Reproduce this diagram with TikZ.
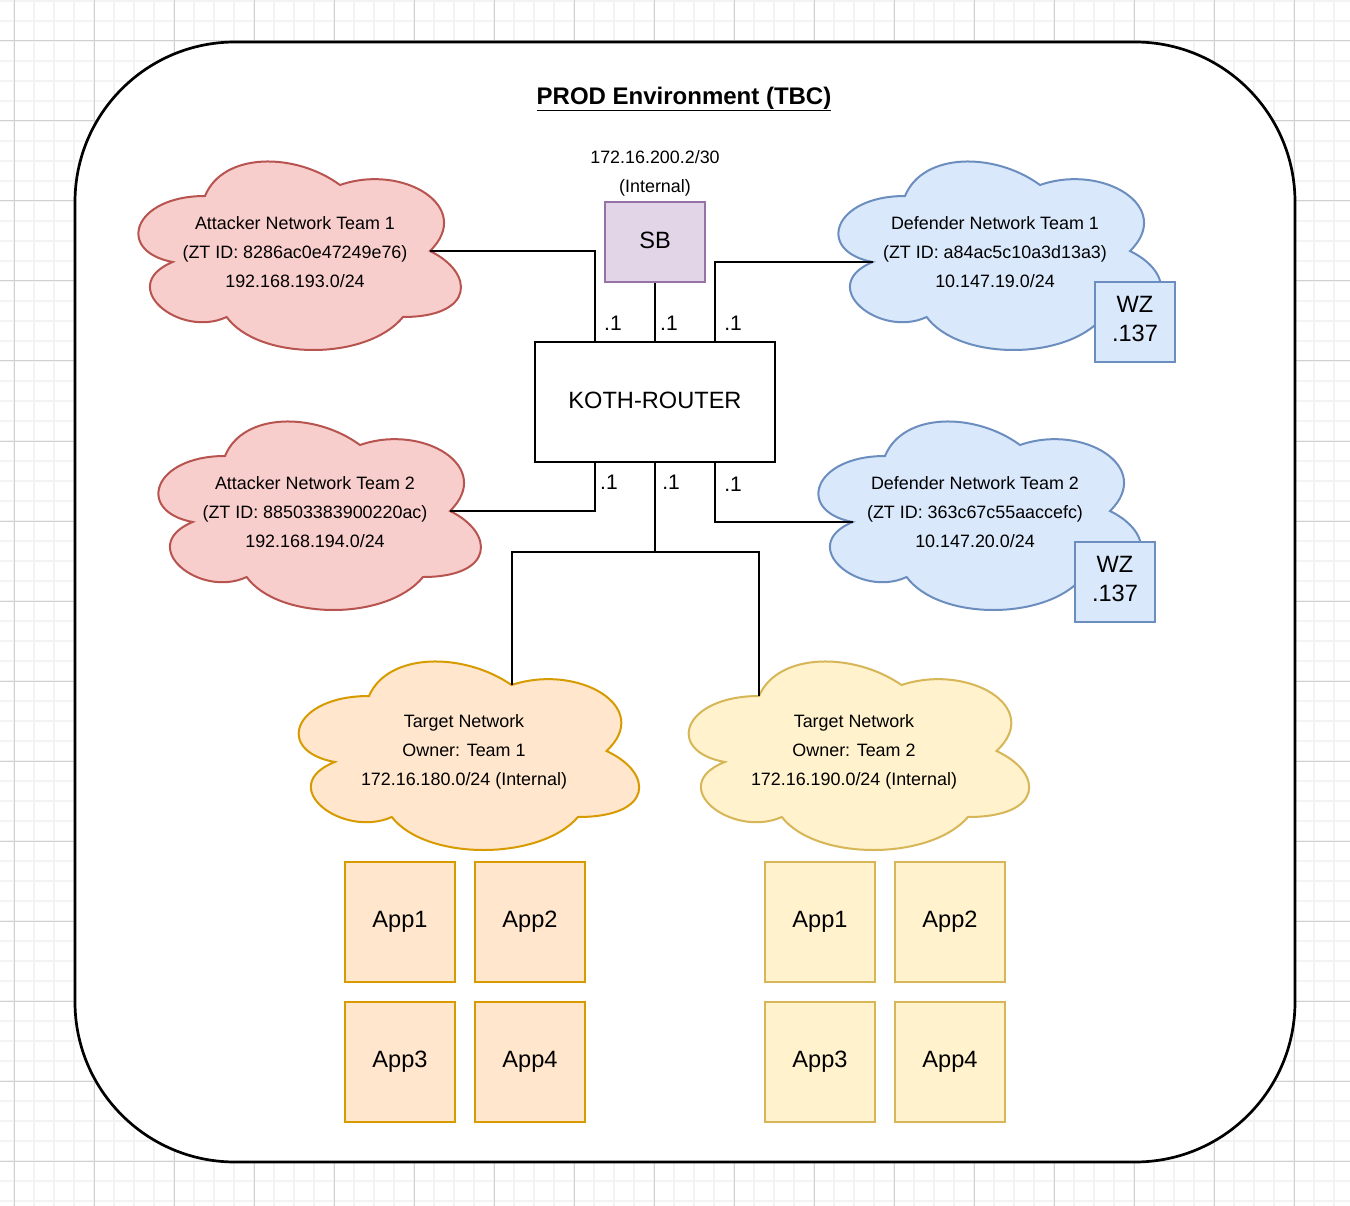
\documentclass[tikz,border=0pt]{standalone}
\usepackage{fontspec}
\setmainfont{Liberation Sans}
\usetikzlibrary{calc}
\definecolor{redfill}{HTML}{F8CECC}\definecolor{redline}{HTML}{B85450}
\definecolor{bluefill}{HTML}{DAE8FC}\definecolor{blueline}{HTML}{6C8EBF}
\definecolor{orangefill}{HTML}{FFE6CC}\definecolor{orangeline}{HTML}{D79B00}
\definecolor{yellowfill}{HTML}{FFF2CC}\definecolor{yellowline}{HTML}{D6B656}
\definecolor{purplefill}{HTML}{E1D5E7}\definecolor{purpleline}{HTML}{9673A6}
\definecolor{gridfine}{HTML}{F3F3F3}\definecolor{gridmajor}{HTML}{D0D0D0}
\newcommand\drawcloud[7]{%
  \path[#6] ({#2+0.25*#4},{#3+0.25*#5})
    .. controls ({#2+0.05*#4},{#3+0.25*#5}) and ({#2},{#3+0.5*#5}) .. ({#2+0.16*#4},{#3+0.55*#5})
    .. controls ({#2},{#3+0.66*#5}) and ({#2+0.18*#4},{#3+0.9*#5}) .. ({#2+0.31*#4},{#3+0.8*#5})
    .. controls ({#2+0.4*#4},{#3+#5}) and ({#2+0.7*#4},{#3+#5}) .. ({#2+0.8*#4},{#3+0.8*#5})
    .. controls ({#2+#4},{#3+0.8*#5}) and ({#2+#4},{#3+0.6*#5}) .. ({#2+0.875*#4},{#3+0.5*#5})
    .. controls ({#2+#4},{#3+0.3*#5}) and ({#2+0.8*#4},{#3+0.1*#5}) .. ({#2+0.625*#4},{#3+0.2*#5})
    .. controls ({#2+0.5*#4},{#3+0.05*#5}) and ({#2+0.3*#4},{#3+0.05*#5}) .. ({#2+0.25*#4},{#3+0.25*#5})
    -- cycle;
  \coordinate (#1-L) at ({#2+0.16*#4},{#3+0.55*#5});
  \coordinate (#1-R) at ({#2+0.875*#4},{#3+0.5*#5});
  \coordinate (#1-TL) at ({#2+0.25*#4},{#3+0.25*#5});
  \coordinate (#1-TR) at ({#2+0.625*#4},{#3+0.2*#5});
  \node[cloudtext] (#1) at ({#2+0.5*#4},{#3+0.5*#5+1}) {#7};
}
\newcommand\lift[2]{\raisebox{#1}[\height][\depth]{#2}}
\begin{document}
\begin{tikzpicture}[x=1pt,y=-1pt,
  cloudtext/.style={align=center,font=\fontsize{17.9}{29}\selectfont,inner sep=0pt},
  redcloud/.style={fill=redfill,draw=redline,line width=2pt},
  bluecloud/.style={fill=bluefill,draw=blueline,line width=2pt},
  orangecloud/.style={fill=orangefill,draw=orangeline,line width=2pt},
  yellowcloud/.style={fill=yellowfill,draw=yellowline,line width=2pt},
  bigbox/.style={draw,line width=2pt,inner sep=0pt,align=center,font=\fontsize{23.6}{29}\selectfont},
  wzbox/.style={bigbox,fill=bluefill,draw=blueline,minimum width=80pt,minimum height=80pt},
  appbox/.style={bigbox,minimum width=110pt,minimum height=120pt},
  orangeapp/.style={appbox,fill=orangefill,draw=orangeline},
  yellowapp/.style={appbox,fill=yellowfill,draw=yellowline},
  conn/.style={draw,line width=2pt},
  portlabel/.style={font=\fontsize{21}{24}\selectfont,inner sep=0pt}
]
\useasboundingbox (0,0) rectangle (1350,1206);
\fill[white] (0,0) rectangle (1350,1206);
% grid
\foreach \gx in {14,34,...,1334} \draw[gridfine,line width=1.6pt] (\gx,0) -- (\gx,1206);
\foreach \gy in {1,21,...,1201} \draw[gridfine,line width=1.6pt] (0,\gy) -- (1350,\gy);
\foreach \gx in {14,94,...,1334} \draw[gridmajor,line width=1pt] (\gx,0) -- (\gx,1206);
\foreach \gy in {41,121,...,1201} \draw[gridmajor,line width=1pt] (0,\gy) -- (1350,\gy);
% environment
\node[draw,fill=white,line width=2.7pt,rounded corners=160pt,minimum width=1220pt,minimum height=1120pt,inner sep=0pt] (env) at (685,602) {};
\node[font=\fontsize{24}{28}\selectfont\bfseries,inner sep=0pt] (title) at (684,99) {\underline{PROD Environment (TBC)}};
% clouds
\drawcloud{a1}{115}{141}{360}{220}{redcloud}{Attacker Network Team 1\\(ZT ID: 8286ac0e47249e76)\\192.168.193.0/24}
\drawcloud{a2}{135}{401}{360}{220}{redcloud}{Attacker Network Team 2\\(ZT ID: 88503383900220ac)\\192.168.194.0/24}
\drawcloud{d1}{815}{141}{360}{220}{bluecloud}{Defender Network Team 1\\(ZT ID: a84ac5c10a3d13a3)\\10.147.19.0/24}
\drawcloud{d2}{795}{401}{360}{220}{bluecloud}{Defender Network Team 2\\(ZT ID: 363c67c55aaccefc)\\10.147.20.0/24}
\drawcloud{t1}{274}{641}{380}{220}{orangecloud}{Target Network\\Owner: Team 1\\172.16.180.0/24 (Internal)}
\drawcloud{t2}{664}{641}{380}{220}{yellowcloud}{Target Network\\Owner: Team 2\\172.16.190.0/24 (Internal)}
% boxes
\node[bigbox,fill=purplefill,draw=purpleline,minimum width=100pt,minimum height=80pt] (sb) at (655,242) {\lift{2pt}{SB}};
\node[cloudtext] (sbaddr) at (655,173) {172.16.200.2/30\\(Internal)};
\node[bigbox,fill=white,minimum width=240pt,minimum height=120pt] (router) at (655,402) {\lift{1.5pt}{KOTH-ROUTER}};
\node[wzbox] (wz1) at (1135,322) {\lift{3pt}{WZ}\\\lift{3pt}{.137}};
\node[wzbox] (wz2) at (1115,582) {\lift{3pt}{WZ}\\\lift{3pt}{.137}};
\node[orangeapp] (t1app1) at (400,922) {App1};
\node[orangeapp] (t1app2) at (530,922) {App2};
\node[orangeapp] (t1app3) at (400,1062) {App3};
\node[orangeapp] (t1app4) at (530,1062) {App4};
\node[yellowapp] (t2app1) at (820,922) {App1};
\node[yellowapp] (t2app2) at (950,922) {App2};
\node[yellowapp] (t2app3) at (820,1062) {App3};
\node[yellowapp] (t2app4) at (950,1062) {App4};
% connectors
\coordinate (split) at ($(router.south)+(0,89)$);
\draw[conn] (a1-R) -| ($(router.north)+(-60,0)$);
\draw[conn] (sb.south) -- (router.north);
\draw[conn] ($(router.north)+(60,0)$) |- (d1-L);
\draw[conn] ($(router.south)+(-60,0)$) |- (a2-R);
\draw[conn] ($(router.south)+(60,0)$) |- (d2-L);
\draw[conn] (router.south) -- (split) -| (t1-TR);
\draw[conn] (split) -| (t2-TL);
% port labels
\node[portlabel] (p1) at (613,323) {.1};
\node[portlabel] (p2) at (669,323) {.1};
\node[portlabel] (p3) at (733,323) {.1};
\node[portlabel] (p4) at (609,482) {.1};
\node[portlabel] (p5) at (671,482) {.1};
\node[portlabel] (p6) at (733,484) {.1};
\end{tikzpicture}
\end{document}
